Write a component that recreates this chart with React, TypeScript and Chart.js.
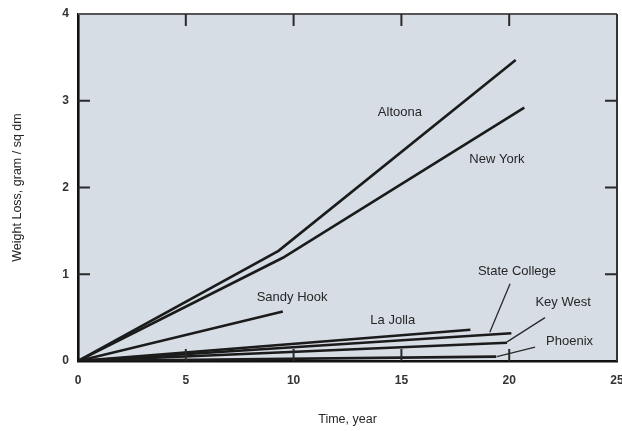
import React, { useEffect, useRef } from "react";
import { Chart, registerables } from "chart.js";

Chart.register(...registerables);

// ---- data ----
const xTicks = [0, 5, 10, 15, 20, 25];
const yTicks = [0, 1, 2, 3, 4];

const altoona = [
  { x: 0, y: 0 },
  { x: 9.3, y: 1.27 },
  { x: 20.3, y: 3.47 },
];
const newYork = [
  { x: 0, y: 0 },
  { x: 9.5, y: 1.19 },
  { x: 20.7, y: 2.92 },
];
const sandyHook = [
  { x: 0, y: 0 },
  { x: 9.5, y: 0.57 },
];
const laJolla = [
  { x: 0, y: 0 },
  { x: 18.2, y: 0.36 },
];
const stateCollege = [
  { x: 0, y: 0 },
  { x: 20.1, y: 0.32 },
];
const keyWest = [
  { x: 0, y: 0 },
  { x: 19.9, y: 0.21 },
];
const phoenix = [
  { x: 0, y: 0 },
  { x: 19.4, y: 0.05 },
];

// leader lines for the crowded labels
const stateCollegeLeader = [
  { x: 20.04, y: 0.89 },
  { x: 19.1, y: 0.33 },
];
const keyWestLeader = [
  { x: 21.66, y: 0.5 },
  { x: 19.9, y: 0.22 },
];
const phoenixLeader = [
  { x: 21.2, y: 0.16 },
  { x: 19.43, y: 0.05 },
];

const seriesNames = ["Altoona", "New York", "Sandy Hook", "La Jolla", "State College", "Key West", "Phoenix"];
const labelX = [14.93, 19.43, 9.93, 14.6, 20.36, 22.5, 22.8];
const labelY = [2.87, 2.32, 0.73, 0.47, 1.03, 0.68, 0.23];

const xTitle = "Time, year";
const yTitle = "Weight Loss, gram / sq dm";

const LINE = "#1b1b1b";
const PLOT_BG = "#d6dde5";

const framePlugin = {
  id: "frameAndLabels",
  beforeDraw(chart: any) {
    const { ctx, chartArea } = chart;
    ctx.save();
    ctx.fillStyle = PLOT_BG;
    ctx.fillRect(chartArea.left, chartArea.top, chartArea.right - chartArea.left, chartArea.bottom - chartArea.top);
    ctx.restore();
  },
  afterDatasetsDraw(chart: any) {
    const { ctx, chartArea } = chart;
    const xs = chart.scales.x;
    const ys = chart.scales.y;
    ctx.save();
    // top and right frame
    ctx.strokeStyle = "#555";
    ctx.lineWidth = 2;
    ctx.beginPath();
    ctx.moveTo(chartArea.left, chartArea.top);
    ctx.lineTo(chartArea.right, chartArea.top);
    ctx.stroke();
    ctx.strokeStyle = "#333";
    ctx.beginPath();
    ctx.moveTo(chartArea.right, chartArea.top);
    ctx.lineTo(chartArea.right, chartArea.bottom);
    ctx.stroke();

    // inner tick marks
    const tl = 12;
    ctx.strokeStyle = "#2a2a2a";
    ctx.lineWidth = 2;
    xTicks.slice(1, -1).forEach((v) => {
      const px = xs.getPixelForValue(v);
      ctx.beginPath();
      ctx.moveTo(px, chartArea.bottom);
      ctx.lineTo(px, chartArea.bottom - tl);
      ctx.moveTo(px, chartArea.top);
      ctx.lineTo(px, chartArea.top + tl);
      ctx.stroke();
    });
    yTicks.slice(1, -1).forEach((v) => {
      const py = ys.getPixelForValue(v);
      ctx.beginPath();
      ctx.moveTo(chartArea.left, py);
      ctx.lineTo(chartArea.left + tl, py);
      ctx.moveTo(chartArea.right, py);
      ctx.lineTo(chartArea.right - tl, py);
      ctx.stroke();
    });

    // series labels
    ctx.fillStyle = "#262626";
    ctx.font = '13px "Liberation Sans", Arial, sans-serif';
    ctx.textAlign = "center";
    ctx.textBaseline = "middle";
    seriesNames.forEach((name, i) => {
      ctx.fillText(name, xs.getPixelForValue(labelX[i]), ys.getPixelForValue(labelY[i]));
    });
    ctx.restore();
  },
};

const mainLine = (label: string, data: any[]) => ({
  label,
  data,
  showLine: true,
  borderColor: LINE,
  borderWidth: 2.6,
  pointRadius: 0,
  fill: false,
  tension: 0,
});

const leader = (label: string, data: any[]) => ({
  label,
  data,
  showLine: true,
  borderColor: "#2a2a2a",
  borderWidth: 1.3,
  pointRadius: 0,
  fill: false,
  tension: 0,
});

export default function App() {
  const ref = useRef<HTMLCanvasElement>(null);

  useEffect(() => {
    if (!ref.current) return;
    const chart = new Chart(ref.current, {
      type: "scatter",
      data: {
        datasets: [
          mainLine("Altoona", altoona),
          mainLine("New York", newYork),
          mainLine("Sandy Hook", sandyHook),
          mainLine("La Jolla", laJolla),
          mainLine("State College", stateCollege),
          mainLine("Key West", keyWest),
          mainLine("Phoenix", phoenix),
          leader("State College leader", stateCollegeLeader),
          leader("Key West leader", keyWestLeader),
          leader("Phoenix leader", phoenixLeader),
        ],
      },
      options: {
        animation: false,
        responsive: false,
        maintainAspectRatio: false,
        layout: { padding: { top: 14, right: 5, left: 0, bottom: 0 } },
        plugins: {
          legend: { display: false },
          tooltip: { enabled: false },
        },
        scales: {
          x: {
            type: "linear",
            min: 0,
            max: 25,
            afterBuildTicks: (s: any) => {
              s.ticks = xTicks.map((v) => ({ value: v }));
            },
            afterFit: (s: any) => {
              s.height = 70;
              s.paddingLeft = 0;
              s.paddingRight = 0;
            },
            ticks: {
              color: "#333",
              font: { family: '"Liberation Sans Narrow", "Liberation Sans", Arial', size: 12, weight: "bold" },
              padding: 12,
              maxRotation: 0,
            },
            grid: { drawOnChartArea: false, drawTicks: false },
            border: { display: true, color: "#111", width: 2.6 },
            title: {
              display: true,
              text: xTitle,
              color: "#262626",
              font: { family: '"Liberation Sans", Arial', size: 12.5 },
              padding: { top: 0, bottom: 4 },
            },
          },
          y: {
            type: "linear",
            min: 0,
            max: 4,
            afterBuildTicks: (s: any) => {
              s.ticks = yTicks.map((v) => ({ value: v }));
            },
            afterFit: (s: any) => {
              s.width = 78;
              s.paddingTop = 0;
              s.paddingBottom = 0;
            },
            ticks: {
              color: "#333",
              font: { family: '"Liberation Sans Narrow", "Liberation Sans", Arial', size: 12, weight: "bold" },
              padding: 9,
            },
            grid: { drawOnChartArea: false, drawTicks: false },
            border: { display: true, color: "#111", width: 2.6 },
            title: {
              display: true,
              text: yTitle,
              color: "#262626",
              font: { family: '"Liberation Sans", Arial', size: 12.5 },
              padding: { top: 10, bottom: 0 },
            },
          },
        },
      },
      plugins: [framePlugin],
    });
    return () => chart.destroy();
  }, []);

  return (
    <div style={{ position: "absolute", left: 0, top: 0, width: 622, height: 431, background: "#fff" }}>
      <canvas ref={ref} width={622} height={431} style={{ display: "block" }} />
    </div>
  );
}
